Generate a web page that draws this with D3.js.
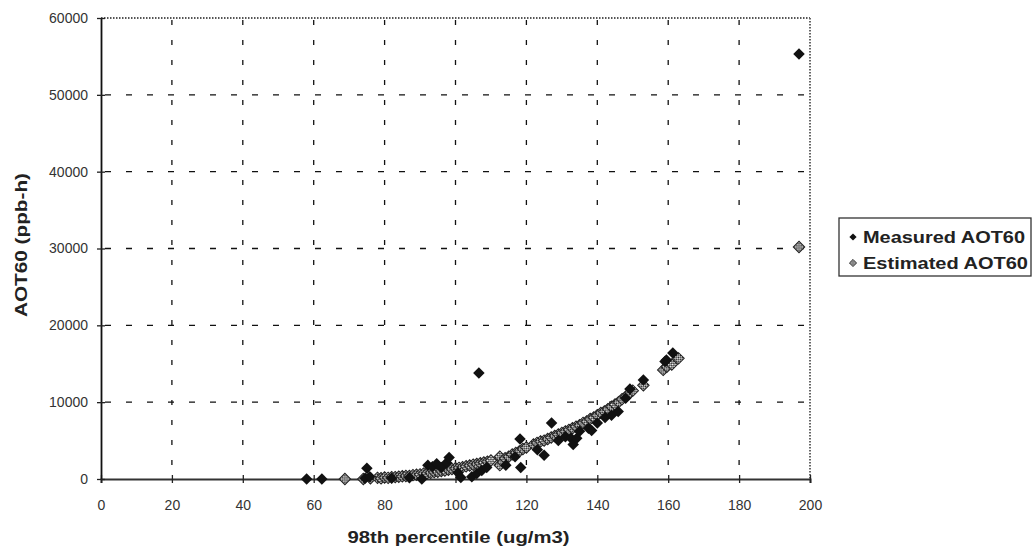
<!DOCTYPE html>
<html>
<head>
<meta charset="utf-8">
<style>
  body { margin: 0; background: #fff; }
  text { font-family: "Liberation Sans", Arial, sans-serif; }
</style>
</head>
<body>
<svg width="1032" height="548"></svg>
<script src="https://cdn.jsdelivr.net/npm/d3@7"></script>
<script>

// values: [98th percentile, AOT60]
var measured = [
  [58, 0], [62.3, 0], [74.5, 100], [75, 1400], [75.8, 300], [82, 100], [87, 150],
  [90.5, 0], [92.2, 1800], [93.5, 1600], [94.7, 2000], [96, 1500], [97.5, 2100],
  [98.2, 2800], [100.7, 800], [101.5, 200], [104.6, 300], [106, 700], [106.6, 13800],
  [107.4, 1100], [108.8, 1500], [114.2, 1800], [116.8, 2900], [118.2, 5200],
  [118.4, 1500], [123.1, 3800], [125, 3100], [127.1, 7300], [129, 5000], [131, 5500],
  [132.6, 5300], [133.2, 4500], [134.2, 5300], [135, 6200], [137.5, 6600],
  [138.4, 6300], [140, 7300], [142.2, 8000], [144, 8300], [145.9, 8800],
  [148, 10500], [149.2, 11700], [153, 12900], [159.1, 15300], [159.5, 15500],
  [161.3, 16400], [196.9, 55300]
];

var estimated = [
  [68.8, 0], [74, 0], [76, 100], [78, 150], [79, 100], [80, 200], [81, 150], [82, 250],
  [83, 250], [84, 300], [85, 350], [86, 400], [87, 400], [88, 500], [89, 550], [90, 600],
  [91, 700], [92, 750], [93, 800], [94, 900], [95, 950], [96, 1050], [97, 1100],
  [98, 1200], [99, 1300], [100, 1400], [101, 1450], [102, 1550], [103, 1650],
  [104, 1750], [105, 1850], [106, 1950], [107, 2050], [108, 2150], [109, 2250],
  [110, 2400], [112.5, 1800], [112.5, 2900], [113.4, 2200], [114, 2700], [115, 2900],
  [116, 3200], [117, 3400], [118, 3600], [119, 3900], [120, 4100], [122, 4500],
  [123, 4700], [124, 4900], [125, 5000], [126, 5200], [127, 5400], [128, 5600],
  [129, 5800], [130, 6000], [131, 6200], [132, 6400], [133, 6600], [134, 6800],
  [135, 7000], [136, 7300], [137, 7500], [138, 7800], [139, 8000], [140, 8300],
  [141, 8600], [142, 8800], [143, 9100], [144, 9400], [145, 9700], [146, 10000],
  [147, 10400], [148, 10700], [149, 11100], [150, 11500], [153, 12200],
  [158.6, 14200], [159.6, 14600], [161, 14900], [162.9, 15700], [196.9, 30200]
];

var xTicks = [0, 20, 40, 60, 80, 100, 120, 140, 160, 180, 200];
var yTicks = [0, 10000, 20000, 30000, 40000, 50000, 60000];
var seriesNames = ["Measured AOT60", "Estimated AOT60"];

var svg = d3.select("svg"),
    margin = {top: 18, right: 222, bottom: 69, left: 101},
    width = +svg.attr("width") - margin.left - margin.right,
    height = +svg.attr("height") - margin.top - margin.bottom,
    g = svg.append("g").attr("transform", "translate(" + margin.left + "," + margin.top + ")");

var x = d3.scaleLinear().domain([0, 200]).range([0, width]);
var y = d3.scaleLinear().domain([0, 60000]).range([height, 0]);

// checkered fill for the estimated markers
var defs = svg.append("defs");
var pat = defs.append("pattern")
    .attr("id", "checker")
    .attr("patternUnits", "userSpaceOnUse")
    .attr("width", 3).attr("height", 3);
pat.append("rect").attr("width", 3).attr("height", 3).attr("fill", "#fff");
pat.append("rect").attr("width", 1.5).attr("height", 1.5).attr("fill", "#111");
pat.append("rect").attr("x", 1.5).attr("y", 1.5).attr("width", 1.5).attr("height", 1.5).attr("fill", "#111");

// grid
g.append("g")
  .selectAll("line")
  .data(yTicks.filter(function(d) { return d > 0 && d < 60000; }))
  .enter().append("line")
    .attr("x1", 0).attr("x2", width)
    .attr("y1", function(d) { return y(d); })
    .attr("y2", function(d) { return y(d); })
    .attr("stroke", "#111")
    .attr("stroke-width", 1.3)
    .style("stroke-dasharray", "6,15")
    .style("stroke-dashoffset", "-4");

g.append("g")
  .selectAll("line")
  .data(xTicks.filter(function(d) { return d > 0 && d < 200; }))
  .enter().append("line")
    .attr("x1", function(d) { return x(d); })
    .attr("x2", function(d) { return x(d); })
    .attr("y1", 0).attr("y2", height)
    .attr("stroke", "#111")
    .attr("stroke-width", 1.3)
    .style("stroke-dasharray", "5,15")
    .style("stroke-dashoffset", "-2");

// dotted top and right frame
g.append("line")
    .attr("x1", 0).attr("x2", width).attr("y1", 0).attr("y2", 0)
    .attr("stroke", "#555").attr("stroke-width", 2)
    .style("stroke-dasharray", "1.5,1.5");
g.append("line")
    .attr("x1", width).attr("x2", width).attr("y1", 0).attr("y2", height)
    .attr("stroke", "#666").attr("stroke-width", 2)
    .style("stroke-dasharray", "1.5,1.5");

// axes
var xAxis = g.append("g")
    .attr("transform", "translate(0," + height + ")")
    .call(d3.axisBottom(x).tickValues(xTicks).tickSize(4).tickPadding(17));
xAxis.selectAll(".tick line").attr("y1", -4).attr("stroke", "#222").attr("stroke-width", 1.3);
xAxis.select(".domain").attr("stroke", "#333").attr("stroke-width", 2);

var yAxis = g.append("g")
    .call(d3.axisLeft(y).tickValues(yTicks).tickFormat(d3.format("d")).tickSize(4).tickPadding(9).tickSizeOuter(0));
yAxis.selectAll(".tick line").attr("x1", 4).attr("stroke", "#222").attr("stroke-width", 1.3);
yAxis.select(".domain").attr("stroke", "#111").attr("stroke-width", 1.8);

g.selectAll(".tick text")
    .attr("font-family", "Liberation Sans, Arial, sans-serif")
    .attr("font-size", 14)
    .attr("fill", "#333");

// points
var diamond = d3.symbol().type(d3.symbolSquare).size(66);

g.append("g")
  .selectAll("path")
  .data(estimated)
  .enter().append("path")
    .attr("d", diamond)
    .attr("transform", function(d) { return "translate(" + x(d[0]) + "," + y(d[1]) + ") rotate(45)"; })
    .attr("fill", "url(#checker)")
    .attr("stroke", "#222")
    .attr("stroke-width", 1);

g.append("g")
  .selectAll("path")
  .data(measured)
  .enter().append("path")
    .attr("d", diamond)
    .attr("transform", function(d) { return "translate(" + x(d[0]) + "," + y(d[1]) + ") rotate(45)"; })
    .attr("fill", "#111");

// axis titles
svg.append("text")
    .attr("x", margin.left + width / 2 + 3)
    .attr("y", 543)
    .attr("text-anchor", "middle")
    .attr("font-size", 16)
    .attr("font-weight", "bold")
    .attr("fill", "#222")
    .attr("textLength", 222)
    .attr("lengthAdjust", "spacingAndGlyphs")
    .text("98th percentile (ug/m3)");

svg.append("text")
    .attr("transform", "translate(27,245) rotate(-90)")
    .attr("text-anchor", "middle")
    .attr("font-size", 16)
    .attr("font-weight", "bold")
    .attr("fill", "#222")
    .attr("textLength", 144)
    .attr("lengthAdjust", "spacingAndGlyphs")
    .text("AOT60 (ppb-h)");

// legend
var legend = svg.append("g").attr("transform", "translate(839,218)");
legend.append("rect")
    .attr("width", 192).attr("height", 58)
    .attr("fill", "#fff")
    .attr("stroke", "#333")
    .attr("stroke-width", 1.3);

var small = d3.symbol().type(d3.symbolSquare).size(26);
legend.selectAll(".item")
  .data(seriesNames)
  .enter().append("g")
    .attr("class", "item")
    .attr("transform", function(d, i) { return "translate(0," + (19 + i * 26) + ")"; })
    .each(function(d, i) {
      var it = d3.select(this);
      it.append("path")
        .attr("d", small)
        .attr("transform", "translate(14,0) rotate(45)")
        .attr("fill", i == 0 ? "#111" : "url(#checker)")
        .attr("stroke", i == 0 ? "none" : "#222")
        .attr("stroke-width", 0.8);
      it.append("text")
        .attr("x", 24)
        .attr("y", 6)
        .attr("font-size", 17)
        .attr("font-weight", "bold")
        .attr("fill", "#222")
        .attr("textLength", i == 0 ? 162 : 165)
        .attr("lengthAdjust", "spacingAndGlyphs")
        .text(d);
    });

</script>
</body>
</html>
